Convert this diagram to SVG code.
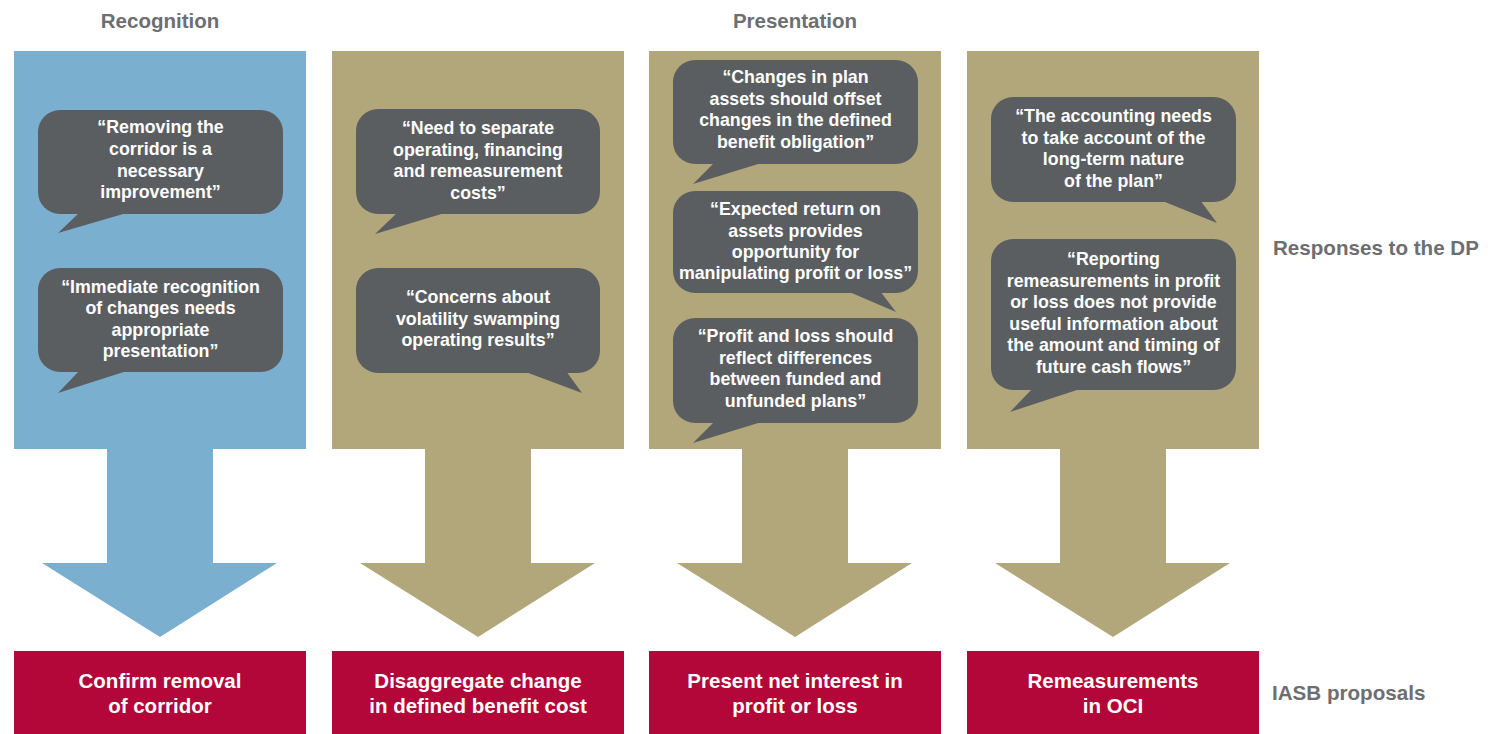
<svg xmlns="http://www.w3.org/2000/svg" width="1499" height="734" viewBox="0 0 1499 734">
<style>
.blue{fill:#7bafcf}
.tan{fill:#b2a77a}
.red{fill:#b20738}
.bub{fill:#5b5e61}
.hdr{font-family:"Liberation Sans",Arial,sans-serif;font-weight:bold;font-size:20.5px;fill:#6d6e71;text-anchor:middle}
.side{font-family:"Liberation Sans",Arial,sans-serif;font-weight:bold;font-size:20.6px;fill:#6d6e71}
.bt{font-family:"Liberation Sans",Arial,sans-serif;font-weight:bold;font-size:17.8px;fill:#ffffff;text-anchor:middle}
.rt{font-family:"Liberation Sans",Arial,sans-serif;font-weight:bold;font-size:20.5px;fill:#ffffff;text-anchor:middle}
</style>
<rect width="1499" height="734" fill="#ffffff"/>

<g id="headers">
<text class="hdr" x="160" y="28">Recognition</text>
<text class="hdr" x="795" y="28">Presentation</text>
</g>

<g id="col1"><rect class="blue" x="14" y="51" width="292" height="398"/></g>
<g id="col2"><rect class="tan" x="332" y="51" width="292" height="398"/></g>
<g id="col3"><rect class="tan" x="649" y="51" width="292" height="398"/></g>
<g id="col4"><rect class="tan" x="967" y="51" width="292" height="398"/></g>

<g id="connectors">
<polygon class="blue" points="107,448 213,448 213,563 277,563 160,637 42,563 107,563"/>
<polygon class="tan" points="425,448 531,448 531,563 595,563 478,637 360,563 425,563"/>
<polygon class="tan" points="742,448 848,448 848,563 912,563 795,637 677,563 742,563"/>
<polygon class="tan" points="1060,448 1166,448 1166,563 1230,563 1113,637 995,563 1060,563"/>
</g>

<g id="bubble1-1">
<rect class="bub" x="38" y="110" width="245" height="104" rx="22"/>
<polygon class="bub" points="80,212 58,233 130,212"/>
<text class="bt" x="160.5" y="133">“Removing the</text>
<text class="bt" x="160.5" y="155">corridor is a</text>
<text class="bt" x="160.5" y="177">necessary</text>
<text class="bt" x="160.5" y="198">improvement”</text>
</g>
<g id="bubble1-2">
<rect class="bub" x="38" y="268" width="245" height="104" rx="22"/>
<polygon class="bub" points="80,370 58,393 130,370"/>
<text class="bt" x="160.5" y="293">“Immediate recognition</text>
<text class="bt" x="160.5" y="314">of changes needs</text>
<text class="bt" x="160.5" y="336">appropriate</text>
<text class="bt" x="160.5" y="357">presentation”</text>
</g>

<g id="bubble2-1">
<rect class="bub" x="356" y="109" width="244" height="105" rx="22"/>
<polygon class="bub" points="398,212 375,234 448,212"/>
<text class="bt" x="478" y="134">“Need to separate</text>
<text class="bt" x="478" y="155.5">operating, financing</text>
<text class="bt" x="478" y="177">and remeasurement</text>
<text class="bt" x="478" y="198.5">costs”</text>
</g>
<g id="bubble2-2">
<rect class="bub" x="356" y="268" width="244" height="105" rx="22"/>
<polygon class="bub" points="523,371 582,393 566,371"/>
<text class="bt" x="478" y="303">“Concerns about</text>
<text class="bt" x="478" y="325">volatility swamping</text>
<text class="bt" x="478" y="346">operating results”</text>
</g>

<g id="bubble3-1">
<rect class="bub" x="673" y="60" width="245" height="104" rx="22"/>
<polygon class="bub" points="715,162 693,184 765,162"/>
<text class="bt" x="795.5" y="83">“Changes in plan</text>
<text class="bt" x="795.5" y="105">assets should offset</text>
<text class="bt" x="795.5" y="126">changes in the defined</text>
<text class="bt" x="795.5" y="148">benefit obligation”</text>
</g>
<g id="bubble3-2">
<rect class="bub" x="673" y="191" width="245" height="102" rx="22"/>
<polygon class="bub" points="847,291 896,312 880,291"/>
<text class="bt" x="795.5" y="215">“Expected return on</text>
<text class="bt" x="795.5" y="236.5">assets provides</text>
<text class="bt" x="795.5" y="258">opportunity for</text>
<text class="bt" x="795.5" y="279">manipulating profit or loss”</text>
</g>
<g id="bubble3-3">
<rect class="bub" x="673" y="318" width="245" height="105" rx="22"/>
<polygon class="bub" points="715,421 693,443 765,421"/>
<text class="bt" x="795.5" y="342">“Profit and loss should</text>
<text class="bt" x="795.5" y="363.5">reflect differences</text>
<text class="bt" x="795.5" y="385">between funded and</text>
<text class="bt" x="795.5" y="406.5">unfunded plans”</text>
</g>

<g id="bubble4-1">
<rect class="bub" x="991" y="97" width="245" height="105" rx="22"/>
<polygon class="bub" points="1160,200 1217,223 1200,200"/>
<text class="bt" x="1113.5" y="122">“The accounting needs</text>
<text class="bt" x="1113.5" y="143.5">to take account of the</text>
<text class="bt" x="1113.5" y="165">long-term nature</text>
<text class="bt" x="1113.5" y="186.5">of the plan”</text>
</g>
<g id="bubble4-2">
<rect class="bub" x="991" y="239" width="245" height="151" rx="22"/>
<polygon class="bub" points="1033,388 1010,412 1083,388"/>
<text class="bt" x="1113.5" y="265">“Reporting</text>
<text class="bt" x="1113.5" y="286.5">remeasurements in profit</text>
<text class="bt" x="1113.5" y="308">or loss does not provide</text>
<text class="bt" x="1113.5" y="329.5">useful information about</text>
<text class="bt" x="1113.5" y="351">the amount and timing of</text>
<text class="bt" x="1113.5" y="372.5">future cash flows”</text>
</g>

<g id="proposal1">
<rect class="red" x="14" y="651" width="292" height="83"/>
<text class="rt" x="160" y="688">Confirm removal</text>
<text class="rt" x="160" y="713">of corridor</text>
</g>
<g id="proposal2">
<rect class="red" x="332" y="651" width="292" height="83"/>
<text class="rt" x="478" y="688">Disaggregate change</text>
<text class="rt" x="478" y="713">in defined benefit cost</text>
</g>
<g id="proposal3">
<rect class="red" x="649" y="651" width="292" height="83"/>
<text class="rt" x="795" y="688">Present net interest in</text>
<text class="rt" x="795" y="713">profit or loss</text>
</g>
<g id="proposal4">
<rect class="red" x="967" y="651" width="292" height="83"/>
<text class="rt" x="1113" y="688">Remeasurements</text>
<text class="rt" x="1113" y="713">in OCI</text>
</g>

<g id="labels">
<text class="side" x="1273" y="255">Responses to the DP</text>
<text class="side" x="1272" y="700">IASB proposals</text>
</g>
</svg>
